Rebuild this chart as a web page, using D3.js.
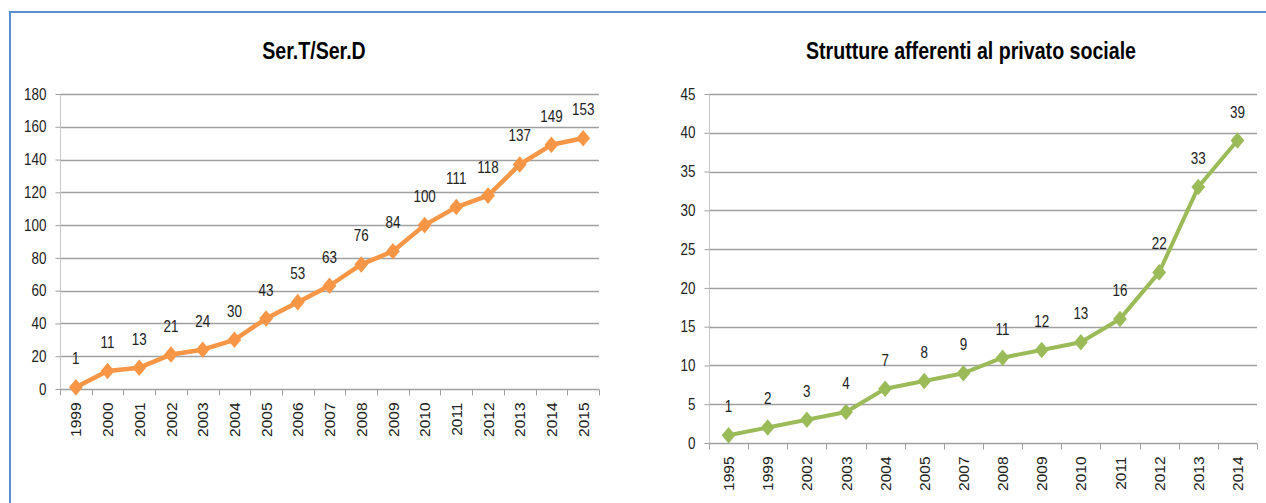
<!DOCTYPE html>
<html>
<head>
<meta charset="utf-8">
<script src="https://cdn.jsdelivr.net/npm/d3@7"></script>
<style>
  body { margin: 0; background: #fff; }
  svg { display: block; }
</style>
</head>
<body>
<svg id="chart" width="1266" height="503"></svg>
<script>
// left chart data
const sertYears = ["1999","2000","2001","2002","2003","2004","2005","2006","2007","2008","2009","2010","2011","2012","2013","2014","2015"];
const sertValues = [1, 11, 13, 21, 24, 30, 43, 53, 63, 76, 84, 100, 111, 118, 137, 149, 153];
const sertTicks = [0, 20, 40, 60, 80, 100, 120, 140, 160, 180];

// right chart data
const privYears = ["1995","1999","2002","2003","2004","2005","2007","2008","2009","2010","2011","2012","2013","2014"];
const privValues = [1, 2, 3, 4, 7, 8, 9, 11, 12, 13, 16, 22, 33, 39];
const privTicks = [0, 5, 10, 15, 20, 25, 30, 35, 40, 45];

const svg = d3.select("#chart");
const FONT = "'Liberation Sans', Arial, sans-serif";
const SQUEEZE = 0.84; // text in the source is narrower than Liberation Sans

// blue frame round the picture
svg.append("path")
    .attr("d", "M10,503 L10,12 L1266,12")
    .attr("fill", "none")
    .attr("stroke", "#5b8fd0")
    .attr("stroke-width", 2);

// excel style diamond, a bit taller than wide
const diamond = {
    draw(ctx, size) {
        const w = Math.sqrt(size) / 2, h = w * 1.2;
        ctx.moveTo(0, -h); ctx.lineTo(w, 0); ctx.lineTo(0, h); ctx.lineTo(-w, 0); ctx.closePath();
    }
};

function drawChart(opt) {
    const { years, values, ticks, title, titleX, left, right, top, bottom, color, lineWidth, markerSize } = opt;

    const x = d3.scaleBand().domain(years).range([left, right]).padding(0);
    const y = d3.scaleLinear().domain([ticks[0], ticks[ticks.length - 1]]).range([bottom, top]);

    const g = svg.append("g");

    g.append("text")
        .attr("transform", "translate(" + titleX + ",59) scale(0.835,1)")
        .attr("text-anchor", "middle")
        .style("font-family", FONT)
        .style("font-weight", "bold")
        .style("font-size", "23.5px")
        .attr("fill", "#000")
        .text(title);

    // gridlines
    g.append("g")
        .selectAll("line")
        .data(ticks.slice(1))
        .enter().append("line")
        .attr("x1", left).attr("x2", right)
        .attr("y1", d => Math.round(y(d)) + 0.5).attr("y2", d => Math.round(y(d)) + 0.5)
        .attr("stroke", "#a0a0a0")
        .attr("stroke-width", 1.3);

    // y axis
    const yAxis = g.append("g")
        .attr("transform", "translate(" + (left + 0.5) + ",0)")
        .call(d3.axisLeft(y).tickValues(ticks).tickSize(5).tickFormat(d3.format("d")));
    yAxis.select(".domain").attr("stroke", "#c8c8c8").attr("d", "M0," + top + "V" + bottom);
    yAxis.selectAll(".tick line").attr("stroke", "#a0a0a0");
    yAxis.selectAll(".tick text")
        .attr("x", -14 / SQUEEZE)
        .attr("transform", "scale(" + SQUEEZE + ",1)")
        .style("font-family", FONT)
        .style("font-size", "16px")
        .attr("fill", "#222");

    // x axis: ticks on category boundaries
    const xAxis = g.append("g").attr("transform", "translate(0," + (Math.round(bottom) + 0.5) + ")");
    xAxis.append("line")
        .attr("x1", left).attr("x2", right)
        .attr("stroke", "#a0a0a0").attr("stroke-width", 1.3);
    const bounds = years.map(d => x(d)).concat([right]);
    xAxis.selectAll("line.tk")
        .data(bounds)
        .enter().append("line")
        .attr("class", "tk")
        .attr("x1", d => Math.round(d) + 0.5).attr("x2", d => Math.round(d) + 0.5)
        .attr("y1", 0).attr("y2", 6)
        .attr("stroke", "#a0a0a0");
    xAxis.selectAll("text")
        .data(years)
        .enter().append("text")
        .attr("transform", d => "translate(" + (x(d) + x.bandwidth() / 2) + ",13) rotate(-90)")
        .attr("text-anchor", "end")
        .attr("dy", "0.36em")
        .style("font-family", FONT)
        .style("font-size", "15.5px")
        .attr("fill", "#222")
        .text(d => d);

    const pts = years.map((d, i) => ({ year: d, value: values[i] }));

    const line = d3.line()
        .x(d => x(d.year) + x.bandwidth() / 2)
        .y(d => y(d.value));

    g.append("path")
        .datum(pts)
        .attr("d", line)
        .attr("fill", "none")
        .attr("stroke", color)
        .attr("stroke-width", lineWidth)
        .attr("stroke-linejoin", "round");

    g.selectAll("path.mk")
        .data(pts)
        .enter().append("path")
        .attr("class", "mk")
        .attr("transform", d => "translate(" + (x(d.year) + x.bandwidth() / 2) + "," + y(d.value) + ")")
        .attr("d", d3.symbol().type(diamond).size(markerSize))
        .attr("fill", color);

    g.selectAll("text.lbl")
        .data(pts)
        .enter().append("text")
        .attr("class", "lbl")
        .attr("transform", d => "translate(" + (x(d.year) + x.bandwidth() / 2) + "," + (y(d.value) - 23) + ") scale(" + SQUEEZE + ",1)")
        .attr("text-anchor", "middle")
        .style("font-family", FONT)
        .style("font-size", "16px")
        .attr("fill", "#222")
        .text(d => d.value);
}

drawChart({
    years: sertYears, values: sertValues, ticks: sertTicks,
    title: "Ser.T/Ser.D", titleX: 314,
    left: 60, right: 599, top: 94, bottom: 389,
    color: "#f79646", lineWidth: 4.5, markerSize: 190
});

drawChart({
    years: privYears, values: privValues, ticks: privTicks,
    title: "Strutture afferenti al privato sociale", titleX: 971,
    left: 709, right: 1257, top: 94, bottom: 443,
    color: "#9bbb59", lineWidth: 4, markerSize: 190
});
</script>
</body>
</html>
